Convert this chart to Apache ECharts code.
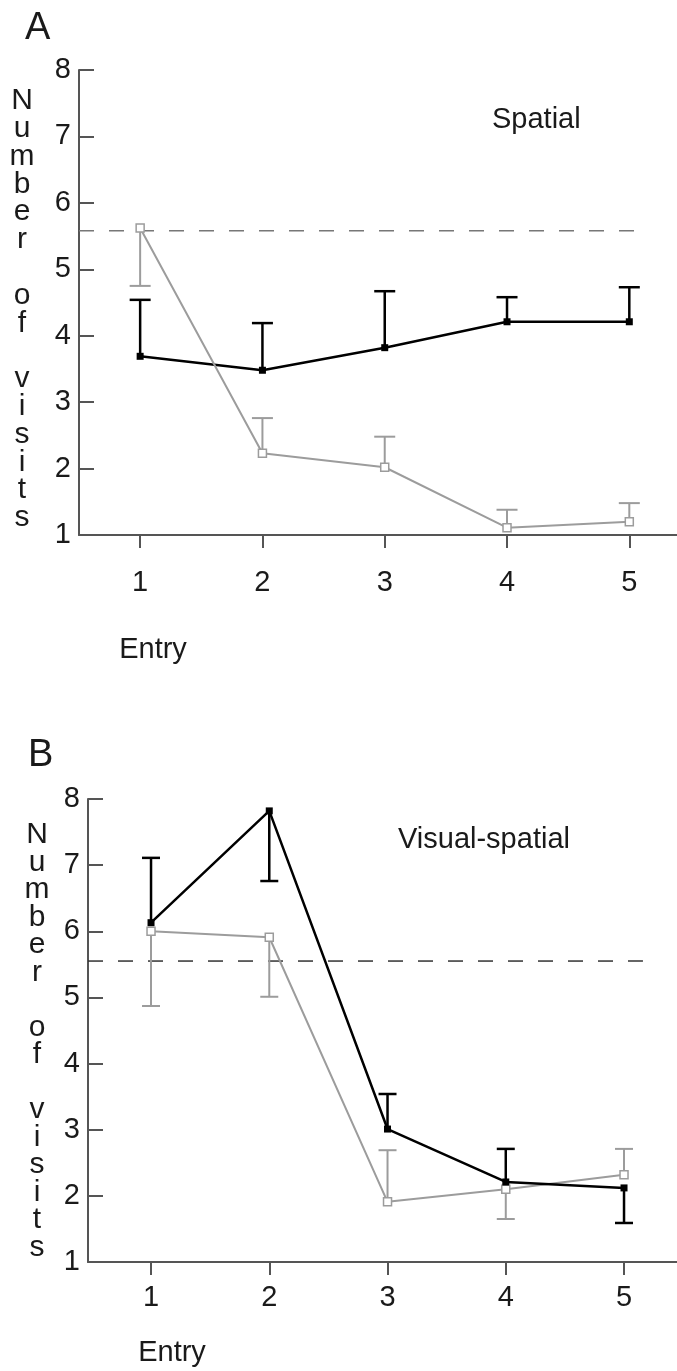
<!DOCTYPE html>
<html>
<head>
<meta charset="utf-8">
<script src="https://cdn.jsdelivr.net/npm/echarts@6/dist/echarts.min.js"></script>
<style>
  html, body { margin: 0; padding: 0; background: #fff; }
  #chart { width: 677px; height: 1371px; }
</style>
</head>
<body>
<div id="chart"></div>
<script>
// values
const entries = [1, 2, 3, 4, 5]
const yTicks = [1, 8]

// A - Spatial
const spatialBlack = [3.69, 3.48, 3.82, 4.21, 4.21]
const spatialBlackErr = [4.54, 4.19, 4.67, 4.58, 4.73]
const spatialGray = [5.62, 2.23, 2.02, 1.11, 1.20]
const spatialGrayErr = [4.75, 2.76, 2.48, 1.38, 1.48]
const spatialChance = 5.58

// B - Visual-spatial
const visualBlack = [6.13, 7.82, 3.01, 2.21, 2.12]
const visualBlackErr = [7.11, 6.76, 3.54, 2.71, 1.59]
const visualGray = [6.00, 5.91, 1.91, 2.10, 2.32]
const visualGrayErr = [4.87, 5.01, 2.69, 1.65, 2.71]
const visualChance = 5.55

const FONT = '"Liberation Sans", Arial, Helvetica, sans-serif'
const TEXT = '#1a1a1a'
const AXIS = '#555'
const BLACK = '#000'
const GRAY = '#9c9c9c'

function pairs(values) {
  return entries.map((x, i) => [x, values[i]])
}

function errorSeries(grid, values, ends, color, width, capW) {
  return {
    type: 'custom',
    xAxisIndex: grid,
    yAxisIndex: grid,
    z: 3,
    silent: true,
    data: entries.map((x, i) => [x, values[i], ends[i]]),
    encode: { x: 0, y: [1, 2] },
    renderItem(params, api) {
      const p0 = api.coord([api.value(0), api.value(1)])
      const p1 = api.coord([api.value(0), api.value(2)])
      const style = { stroke: color, lineWidth: width }
      return {
        type: 'group',
        children: [{
          type: 'line',
          shape: { x1: p0[0], y1: p0[1], x2: p1[0], y2: p1[1] },
          style
        }, {
          type: 'line',
          shape: { x1: p1[0] - capW / 2, y1: p1[1], x2: p1[0] + capW / 2, y2: p1[1] },
          style
        }]
      }
    }
  }
}

function lineSeries(grid, values, filled, z) {
  return {
    type: 'line',
    xAxisIndex: grid,
    yAxisIndex: grid,
    z,
    silent: true,
    data: pairs(values),
    symbol: 'rect',
    symbolSize: filled ? 7 : 8,
    showSymbol: true,
    lineStyle: { color: filled ? BLACK : GRAY, width: filled ? 2.5 : 2 },
    itemStyle: filled
      ? { color: BLACK }
      : { color: '#fff', borderColor: GRAY, borderWidth: 1.5 }
  }
}

function chanceSeries(grid, level, xFrom, xTo, color) {
  return {
    type: 'line',
    xAxisIndex: grid,
    yAxisIndex: grid,
    z: 1,
    silent: true,
    symbol: 'none',
    data: [[xFrom, level], [xTo, level]],
    lineStyle: { color, width: 1.5, type: [15, 15] }
  }
}

function xAxis(grid, min, max, margin) {
  return {
    type: 'value',
    gridIndex: grid,
    min,
    max,
    axisLine: { lineStyle: { color: AXIS, width: 2 } },
    axisTick: { customValues: entries, length: 13, lineStyle: { color: AXIS, width: 2 } },
    axisLabel: { customValues: entries, margin, fontSize: 29, fontFamily: FONT, color: TEXT },
    splitLine: { show: false }
  }
}

function yAxis(grid) {
  return {
    type: 'value',
    gridIndex: grid,
    min: yTicks[0],
    max: yTicks[1],
    interval: 1,
    axisLine: { show: true, lineStyle: { color: AXIS, width: 2 } },
    axisTick: { show: true, inside: true, length: 15, lineStyle: { color: AXIS, width: 2 } },
    axisLabel: { margin: 8, fontSize: 29, fontFamily: FONT, color: TEXT },
    splitLine: { show: false }
  }
}

function text(str, x, y, size, align, extra) {
  return Object.assign({
    type: 'text',
    x,
    y,
    silent: true,
    style: {
      text: str,
      fill: TEXT,
      font: size + 'px ' + FONT,
      align: align || 'left',
      verticalAlign: 'middle'
    }
  }, extra || {})
}

const yTitle = 'N\nu\nm\nb\ne\nr\n\no\nf\n\nv\ni\ns\ni\nt\ns'

function verticalTitle(x, top, lh) {
  return {
    type: 'text',
    x,
    y: top,
    silent: true,
    style: {
      text: yTitle,
      fill: TEXT,
      font: '30px ' + FONT,
      align: 'center',
      verticalAlign: 'top',
      lineHeight: lh
    }
  }
}

const chart = echarts.init(document.getElementById('chart'), null, { renderer: 'canvas' })

chart.setOption({
  animation: false,
  backgroundColor: '#fff',
  grid: [
    { left: 79, top: 70, right: 0, bottom: 836 },
    { left: 88, top: 799, right: 0, bottom: 109 }
  ],
  xAxis: [xAxis(0, 0.5, 5.39, 33), xAxis(1, 0.467, 5.448, 21)],
  yAxis: [yAxis(0), yAxis(1)],
  graphic: [
    text('A', 25, 29, 38),
    text('Spatial', 492, 120, 29),
    text('Entry', 153, 650, 29, 'center'),
    verticalTitle(22, 87, 27.8),
    text('B', 28, 756, 38),
    text('Visual-spatial', 398, 840, 29),
    text('Entry', 172, 1353, 29, 'center'),
    verticalTitle(37, 821, 27.5)
  ],
  series: [
    chanceSeries(0, spatialChance, 0.5, 5.1, '#777'),
    errorSeries(0, spatialBlack, spatialBlackErr, BLACK, 2.5, 21),
    errorSeries(0, spatialGray, spatialGrayErr, GRAY, 2, 21),
    lineSeries(0, spatialBlack, true, 4),
    lineSeries(0, spatialGray, false, 5),

    chanceSeries(1, visualChance, 0.467, 5.16, '#333'),
    errorSeries(1, visualBlack, visualBlackErr, BLACK, 2.5, 18),
    errorSeries(1, visualGray, visualGrayErr, GRAY, 2, 18),
    lineSeries(1, visualGray, false, 4),
    lineSeries(1, visualBlack, true, 5)
  ]
})
</script>
</body>
</html>
